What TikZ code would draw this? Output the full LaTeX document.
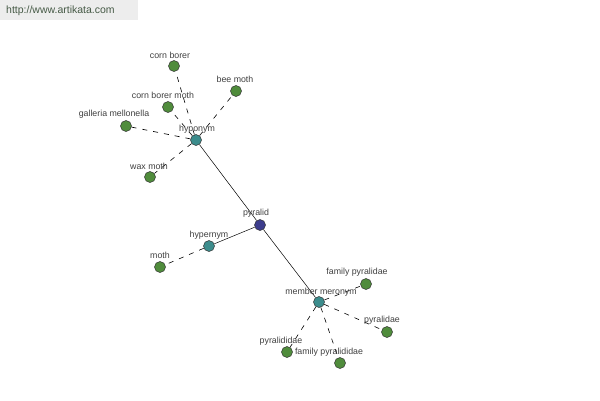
\documentclass[tikz,border=0pt]{standalone}
\usepackage{fontspec}
\setmainfont{Liberation Sans}
\begin{document}
\begin{tikzpicture}[x=1pt,y=-1pt,
  dot/.style={circle,draw=black!80,line width=0.5pt,minimum size=11pt,inner sep=0pt},
  leaf/.style={dot,fill={rgb,255:red,80;green,140;blue,60}},
  rel/.style={dot,fill={rgb,255:red,60;green,140;blue,140}},
  root/.style={dot,fill={rgb,255:red,60;green,60;blue,140}},
  lab/.style={font=\fontsize{8.8}{9}\selectfont,text=black!75,inner sep=0pt},
  sol/.style={draw=black,line width=0.5pt},
  dsh/.style={draw=black,line width=0.6pt,dash pattern=on 5pt off 6pt}]
\useasboundingbox (0,0) rectangle (600,400);
\fill[white] (0,0) rectangle (600,400);
\node[fill=black!7,minimum width=138pt,minimum height=20pt,anchor=north west,inner sep=0pt] (hdr) at (0,0) {};
\node[font=\fontsize{10.5}{11}\selectfont,text={rgb,255:red,70;green,90;blue,70},anchor=west,inner sep=0pt] (url) at (6,11) {http://www.artikata.com};
\node[root] (py) at (260,225) {};
\node[rel] (hy) at (196,140) {};
\node[rel] (he) at (209,246) {};
\node[rel] (mm) at (319,302) {};
\node[leaf] (cb) at (174,66) {};
\node[leaf] (bm) at (236,91) {};
\node[leaf] (cbm) at (168,107) {};
\node[leaf] (gm) at (126,126) {};
\node[leaf] (wm) at (150,177) {};
\node[leaf] (mo) at (160,267) {};
\node[leaf] (fp) at (366,284) {};
\node[leaf] (pe) at (387,332) {};
\node[leaf] (pd) at (287,352) {};
\node[leaf] (fpd) at (340,363) {};
\draw[sol] (hy) -- (py);
\draw[sol] (py) -- (he);
\draw[sol] (py) -- (mm);
\draw[dsh] (hy) -- (cb);
\draw[dsh] (hy) -- (bm);
\draw[dsh] (hy) -- (cbm);
\draw[dsh] (hy) -- (gm);
\draw[dsh] (hy) -- (wm);
\draw[dsh] (he) -- (mo);
\draw[dsh] (mm) -- (fp);
\draw[dsh] (mm) -- (pe);
\draw[dsh] (mm) -- (pd);
\draw[dsh] (mm) -- (fpd);
\node[lab] (lcb) at (170,55) {corn borer};
\node[lab] (lbm) at (235,79) {bee moth};
\node[lab] (lcbm) at (163,95) {corn borer moth};
\node[lab] (lgm) at (114,114) {galleria mellonella};
\node[lab] (lwm) at (149,166) {wax moth};
\node[lab] (lhy) at (197,129) {hyponym};
\node[lab] (lpy) at (256,213) {pyralid};
\node[lab] (lhe) at (209,235) {hypernym};
\node[lab] (lmo) at (160,255) {moth};
\node[lab] (lmm) at (321,292) {member meronym};
\node[lab] (lfp) at (357,272) {family pyralidae};
\node[lab] (lpe) at (382,320) {pyralidae};
\node[lab] (lpd) at (281,341) {pyralididae};
\node[lab] (lfpd) at (329,352) {family pyralididae};
\end{tikzpicture}
\end{document}
